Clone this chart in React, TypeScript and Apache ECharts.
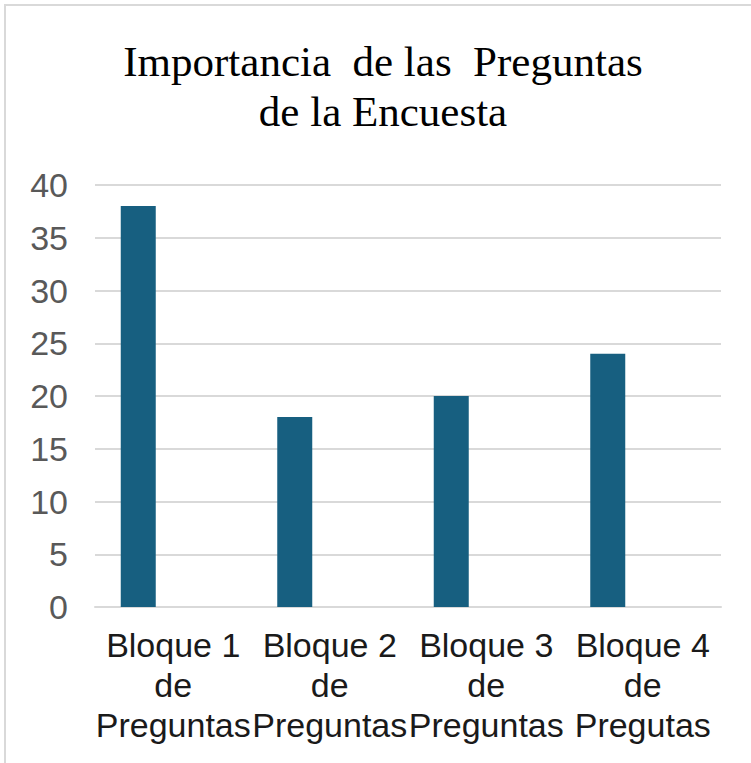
import React, { useEffect, useRef } from "react";
import * as echarts from "echarts";

const titleLines = ["Importancia  de las  Preguntas", "de la Encuesta"];
const categories = [
  "Bloque 1 de Preguntas",
  "Bloque 2 de Preguntas",
  "Bloque 3 de Preguntas",
  "Bloque 4 de Pregutas",
];
const importanceValues = [38, 18, 20, 24];
const emptySeriesValues = [null, null, null, null];
const yMin = 0;
const yMax = 40;
const yInterval = 5;

export default function App() {
  const ref = useRef<HTMLDivElement>(null);

  useEffect(() => {
    document.body.style.margin = "0";
    const chart = echarts.init(ref.current!, null, { renderer: "svg" });
    chart.setOption({
      animation: false,
      backgroundColor: "#ffffff",
      title: {
        text: titleLines.join("\n"),
        left: 383,
        top: 36,
        padding: 0,
        textAlign: "center",
        textStyle: {
          fontFamily: "Liberation Serif",
          fontSize: 43,
          lineHeight: 50,
          fontWeight: "normal",
          color: "#000000",
        },
      },
      graphic: [
        {
          type: "rect",
          shape: { x: 5, y: 5, width: 800, height: 800 },
          style: { fill: "none", stroke: "#d9d9d9", lineWidth: 2 },
          silent: true,
          z: -1,
        },
      ],
      grid: { left: 95, right: 30, top: 185, bottom: 156, containLabel: false },
      xAxis: {
        type: "category",
        data: categories,
        axisLine: { show: true, lineStyle: { color: "#d9d9d9", width: 2 } },
        axisTick: { show: false },
        axisLabel: {
          interval: 0,
          margin: 18,
          fontFamily: "Liberation Sans",
          fontSize: 34,
          lineHeight: 40,
          color: "#1a1a1a",
          align: "center",
          formatter: (v: string) => v.replace(" de ", "\nde\n"),
        },
      },
      yAxis: {
        type: "value",
        min: yMin,
        max: yMax,
        interval: yInterval,
        axisLine: { show: false },
        axisTick: { show: false },
        splitLine: { show: true, lineStyle: { color: "#d9d9d9", width: 2 } },
        axisLabel: {
          margin: 27,
          fontFamily: "Liberation Sans",
          fontSize: 34,
          color: "#595959",
        },
      },
      series: [
        {
          type: "bar",
          data: importanceValues,
          barWidth: 35,
          barGap: "100%",
          itemStyle: { color: "#175f80" },
        },
        {
          type: "bar",
          data: emptySeriesValues,
          barWidth: 35,
          itemStyle: { color: "#175f80" },
        },
      ],
    });
    return () => chart.dispose();
  }, []);

  return (
    <div
      ref={ref}
      style={{ position: "absolute", left: 0, top: 0, width: 751, height: 763 }}
    />
  );
}
